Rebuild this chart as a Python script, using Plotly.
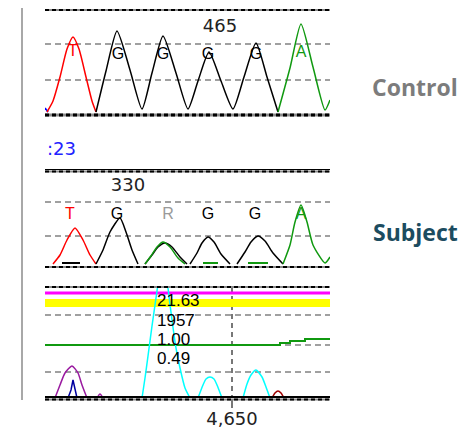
import plotly.graph_objects as go

W, H = 466, 438

# ---------------- data (x in scan units, y in signal units) ----------------
# Panel 1 : Control
c_blue_x = [4463, 4466]
c_blue_y = [7, 3]
c_red_x = [4465, 4471, 4478, 4485, 4491, 4497, 4504, 4510, 4514]
c_red_y = [3, 14, 38, 66, 78, 66, 38, 14, 3]
c_black_x = [4514, 4524, 4535, 4548, 4560, 4570, 4581, 4594, 4606, 4616, 4627, 4639,
             4651, 4662, 4674, 4685, 4696]
c_black_y = [3, 44, 84, 45, 6, 42, 79, 42, 6, 34, 63, 34, 6, 38, 72, 38, 3]
c_green_x = [4696, 4708, 4719, 4731, 4743, 4748]
c_green_y = [3, 47, 91, 48, 5, 15]
c_bases = ["T", "G", "G", "G", "G", "A"]
c_base_x = [4491, 4536, 4581, 4626, 4674, 4719]
c_base_y = [63, 60, 60, 60, 60, 62]
c_base_col = ["#ff0000", "#000000", "#000000", "#000000", "#000000", "#109910"]
c_pos_label = "465"
c_pos_x = 4638
c_pos_y = 88

# Panel 2 : Subject
s_red_x = [4471, 4478, 4485, 4493, 4501, 4508, 4514]
s_red_y = [3, 12, 27, 39, 27, 12, 3]
s_black_x = [4514, 4521, 4528, 4538, 4544, 4550, 4556, None,
             4563, 4570, 4576, 4583, 4590, 4598, 4605, None,
             4608, 4615, 4620, 4626, 4632, 4639, 4648, None,
             4655, 4663, 4669, 4676, 4683, 4691, 4701]
s_black_y = [3, 17, 35, 49, 35, 17, 3, None,
             3, 12, 20, 24, 20, 10, 3, None,
             3, 14, 24, 30, 25, 13, 3, None,
             3, 15, 25, 31, 26, 14, 3]
s_green_x = [4563, 4569, 4575, 4581, 4588, 4596, 4603, None,
             4701, 4708, 4713, 4719, 4725, 4731, 4743, 4748]
s_green_y = [3, 11, 20, 25, 20, 9, 3, None,
             3, 22, 45, 62, 45, 22, 4, 10]
s_bar_black_x = [4480, 4498]
s_bar_green_x = [4621, 4636, None, 4666, 4686]
s_bar_y = 4
s_bases = ["T", "G", "R", "G", "G", "A"]
s_base_x = [4488, 4535, 4586, 4626, 4673, 4719]
s_base_y = 52
s_base_col = ["#ff0000", "#000000", "#9a9a9a", "#000000", "#000000", "#109910"]
s_pos_label = "330"
s_pos_x = 4546
s_pos_y = 81

# Panel 3 : quality / difference traces
q_cyan_x = [4560, 4563, 4566, 4570, 4574, 4578, 4582, 4586, 4590, 4594, 4598, 4603, 4608, None,
            4616, 4621, 4624, 4628, 4632, 4635, 4640, None,
            4661, 4665, 4669, 4674, 4680, 4684, 4688]
q_cyan_y = [0, 20, 42, 72, 100, 128, 150, 110, 78, 50, 30, 10, 0, None,
            0, 13, 19, 21, 19, 13, 0, None,
            0, 14, 23, 28, 21, 11, 0]
q_purple_x = [4473, 4478, 4483, 4490, 4496, 4500, 4505, None, 4515, 4518, 4521]
q_purple_y = [0, 13, 25, 32, 25, 13, 0, None, 0, 4, 0]
q_blue_x = [4486, 4489, 4491, 4493, 4495]
q_blue_y = [0, 8, 18, 8, 0]
q_darkred_x = [4690, 4693, 4696, 4699, 4702]
q_darkred_y = [0, 5, 7, 5, 0]
q_green_x = [4463, 4698, 4708, 4723, 4748]
q_green_y = [53, 55, 57, 59, 59]
q_magenta_y = 105
q_yellow_y = 95
q_labels = ["21.63", "1957", "1.00", "0.49"]
q_label_y = [96, 76, 57, 38]
q_label_x = 4575
q_tick = [4650]
q_tick_text = ["4,650"]

XR = [4463, 4748]

def py(p):
    return 1 - p / H

def px(p):
    return p / W

fig = go.Figure()

def line(x, y, color, xa, ya, width=1.5, shape="spline", smooth=0.6):
    kw = dict(shape=shape)
    if shape == "spline":
        kw["smoothing"] = smooth
    fig.add_trace(go.Scatter(x=x, y=y, mode="lines", xaxis=xa, yaxis=ya,
                             line=dict(color=color, width=width, **kw),
                             hoverinfo="skip", connectgaps=False))

# panel 1
line(c_blue_x, c_blue_y, "#0000ff", "x", "y", shape="linear")
line(c_red_x, c_red_y, "#ff0000", "x", "y")
line(c_black_x, c_black_y, "#000000", "x", "y")
line(c_green_x, c_green_y, "#109910", "x", "y")
fig.add_trace(go.Scatter(x=c_base_x, y=c_base_y, text=c_bases, mode="text",
                         textfont=dict(family="Liberation Sans", size=16, color=c_base_col),
                         xaxis="x", yaxis="y", hoverinfo="skip"))
fig.add_trace(go.Scatter(x=[c_pos_x], y=[c_pos_y], text=[c_pos_label], mode="text",
                         textfont=dict(family="DejaVu Sans", size=18, color="#222"),
                         xaxis="x", yaxis="y", hoverinfo="skip"))

# panel 2
line(s_red_x, s_red_y, "#ff0000", "x2", "y2")
line(s_black_x, s_black_y, "#000000", "x2", "y2")
line(s_green_x, s_green_y, "#109910", "x2", "y2")
line(s_bar_black_x, [s_bar_y] * 2, "#000000", "x2", "y2", width=2, shape="linear")
line(s_bar_green_x, [s_bar_y, s_bar_y, None, s_bar_y, s_bar_y], "#109910", "x2", "y2",
     width=2, shape="linear")
fig.add_trace(go.Scatter(x=s_base_x, y=[s_base_y] * len(s_bases), text=s_bases, mode="text",
                         textfont=dict(family="Liberation Sans", size=16, color=s_base_col),
                         xaxis="x2", yaxis="y2", hoverinfo="skip"))
fig.add_trace(go.Scatter(x=[s_pos_x], y=[s_pos_y], text=[s_pos_label], mode="text",
                         textfont=dict(family="DejaVu Sans", size=18, color="#222"),
                         xaxis="x2", yaxis="y2", hoverinfo="skip"))

# panel 3
line(XR, [q_yellow_y] * 2, "#ffff00", "x3", "y3", width=8, shape="linear")
line(XR, [q_magenta_y] * 2, "#ff00ff", "x3", "y3", width=3, shape="linear")
line(q_green_x, q_green_y, "#109910", "x3", "y3", width=2, shape="hv")
line(q_cyan_x, q_cyan_y, "#00ffff", "x3", "y3")
line(q_purple_x, q_purple_y, "#9a1aa0", "x3", "y3")
line(q_blue_x, q_blue_y, "#0000a0", "x3", "y3", shape="linear")
line(q_darkred_x, q_darkred_y, "#a00000", "x3", "y3")
fig.add_trace(go.Scatter(x=[q_label_x] * len(q_labels), y=q_label_y, text=q_labels,
                         mode="text", textposition="middle right",
                         textfont=dict(family="Liberation Sans", size=17, color="#000"),
                         xaxis="x3", yaxis="y3", hoverinfo="skip"))

# ---------------- borders ----------------
x0, x1 = px(45), px(330)

def hline(p, color, width, dash=None):
    fig.add_shape(type="line", xref="paper", yref="paper", x0=x0, x1=x1, y0=py(p), y1=py(p),
                  line=dict(color=color, width=width, dash=dash), layer="above")

for p, w in [(10, 2), (115, 3), (267, 2), (287, 2)]:
    hline(p, "#8a8a8a", w)
    hline(p, "#000000", w, "4px,3px")
hline(169.5, "#000000", 1)
hline(171.5, "#8a8a8a", 2)
hline(171.5, "#000000", 2, "4px,3px")
hline(397, "#000000", 2)
hline(399.5, "#8a8a8a", 2)
hline(399.5, "#000000", 2, "4px,3px")

# left vertical rule
fig.add_shape(type="line", xref="paper", yref="paper", x0=px(22), x1=px(22),
              y0=py(8), y1=py(400), line=dict(color="#a8a8a8", width=2))

# ---------------- text ----------------
fig.add_annotation(x=px(45), y=py(148), xref="paper", yref="paper", text=":23",
                   showarrow=False, xanchor="left", yanchor="middle",
                   font=dict(family="DejaVu Sans", size=18, color="#2222ff"))
fig.add_annotation(x=px(415), y=py(87), xref="paper", yref="paper", text="<b>Control</b>",
                   showarrow=False, xanchor="center", yanchor="middle",
                   font=dict(family="Open Sans", size=23, color="#7c7c7c"))
fig.add_annotation(x=px(415), y=py(232), xref="paper", yref="paper", text="<b>Subject</b>",
                   showarrow=False, xanchor="center", yanchor="middle",
                   font=dict(family="Open Sans", size=23, color="#1c4c60"))

hidden_x = dict(range=XR, domain=[x0, x1], visible=False, fixedrange=True)
ygrid = dict(showticklabels=False, ticks="", zeroline=False, showline=False,
             showgrid=True, gridcolor="#a0a0a0", gridwidth=2, griddash="6px,4px",
             fixedrange=True)

fig.update_layout(
    width=W, height=H, margin=dict(l=0, r=0, t=0, b=0),
    paper_bgcolor="white", plot_bgcolor="white", showlegend=False,
    xaxis=dict(anchor="y", **hidden_x),
    xaxis2=dict(anchor="y2", **hidden_x),
    xaxis3=dict(anchor="y3", range=XR, domain=[x0, x1], tickvals=q_tick, ticktext=q_tick_text,
                ticks="outside", ticklen=9, tickwidth=2, tickcolor="#777",
                ticklabelstandoff=-5,
                tickfont=dict(family="DejaVu Sans", size=18, color="#222"),
                showgrid=True, gridcolor="#777", gridwidth=1.5, griddash="5px,4px",
                zeroline=False, showline=False, fixedrange=True),
    yaxis=dict(anchor="x", domain=[py(115), py(10)], range=[0, 105], tickvals=[35, 71], **ygrid),
    yaxis2=dict(anchor="x2", domain=[py(267), py(170)], range=[0, 97], tickvals=[31, 65], **ygrid),
    yaxis3=dict(anchor="x3", domain=[py(398), py(287)], range=[0, 111], tickvals=[26, 53, 83], **ygrid),
)

fig.write_html("out.html", config={"displayModeBar": False},
               post_script="document.body.style.margin='0';")
